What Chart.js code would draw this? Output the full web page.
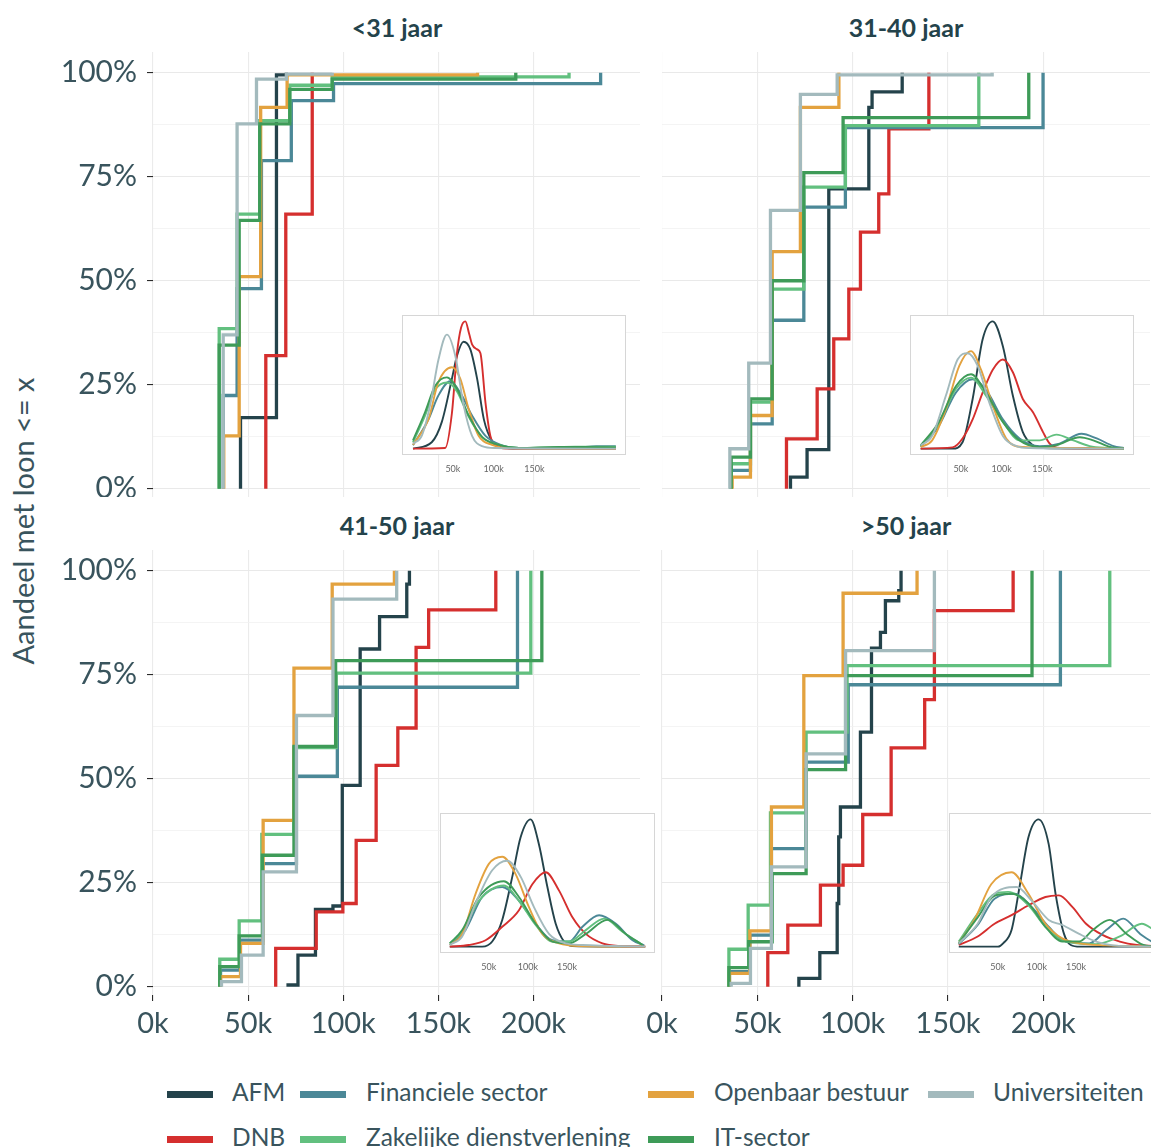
<!DOCTYPE html>
<html>
<head>
<meta charset="utf-8">
<script src="https://cdn.jsdelivr.net/npm/chart.js@4.4.1/dist/chart.umd.min.js"></script>
<style>
  body { margin: 0; width: 1151px; height: 1147px; overflow: hidden; background: #fff;
         position: relative; font-family: Lato, "Noto Sans", sans-serif; color: #39545d; }
  canvas { position: absolute; }
  .strip { position: absolute; font-weight: bold; font-size: 25px; color: #24434b;
           transform: translate(-50%, -50%); white-space: nowrap; }
  #ytitle { position: absolute; left: 22px; top: 521px; font-size: 29px; white-space: nowrap;
            transform: translate(-50%, -50%) rotate(-90deg); }
  .leg { position: absolute; font-size: 24.5px; white-space: nowrap; transform: translateY(-50%); }
  .sw { position: absolute; width: 46px; height: 7px; }
</style>
</head>
<body>
<div id="ytitle">Aandeel met loon &lt;= x</div>
<script>
const series = ["AFM", "DNB", "Financiele sector", "Zakelijke dienstverlening",
                "Openbaar bestuur", "IT-sector", "Universiteiten"];
const colors = ["#24434b", "#d52f2e", "#4b8897", "#62c07f", "#e3a23f", "#3e9b58", "#a3babd"];
const panelTitles = ["<31 jaar", "31-40 jaar", "41-50 jaar", ">50 jaar"];
const xTicks = [0, 50, 100, 150, 200];
const yTicks = [0, 12.5, 25, 37.5, 50, 62.5, 75, 87.5, 100];
const insetTicks = [50, 100, 150];

// ecdf steps per panel, [loon in k, aandeel in %], series in the order above
const ecdfU31 = [
  [[46.0,0],[46.0,17.1],[64.9,99.5],[70.1,100]],
  [[59.3,0],[59.3,32],[69.8,66],[83.7,100]],
  [[36.9,0],[36.9,22.4],[44.2,48.1],[57,78.9],[72.7,93.3],[94.9,97.4],[235.3,100]],
  [[34.8,0],[34.8,38.5],[44.2,66],[56.1,88.5],[71.9,97],[94.2,99],[218.7,100]],
  [[37.2,0],[37.2,12.7],[45.3,51],[56.6,91.7],[70.5,99.5],[170.6,100]],
  [[34.8,0],[34.8,34.5],[45.3,64.5],[56.1,87.7],[71.9,96],[94.2,98.5],[190.7,100]],
  [[36.9,0],[36.9,37],[44.2,87.7],[54.4,98.5],[70.1,99.7],[94.2,100]]
];
const ecdf3140 = [
  [[67.4,0],[67.4,2.8],[76.1,9.4],[87.5,72.1],[108.5,91.7],[110.2,95.4],[126,100]],
  [[65.3,0],[65.3,12],[81.4,24],[90.1,36],[98,48],[104.1,61.7],[113.7,70.9],[119,86.5],[140,100]],
  [[36.3,0],[36.3,4.4],[46.4,15.6],[57.8,40.5],[74.4,67.7],[96.2,86.8],[199.9,100]],
  [[36.3,0],[36.3,6],[46.4,20.8],[57.8,48],[74.4,72.5],[96.2,87.3],[166.2,100]],
  [[36.8,0],[36.8,2.8],[46.4,17.6],[57.8,57],[72.6,91.7],[92.8,100]],
  [[36.3,0],[36.3,7.6],[46.4,21.6],[57.8,50],[74.4,76],[95,89.2],[192.4,100]],
  [[35.6,0],[35.6,9.6],[45.5,30.2],[56.9,66.9],[72.6,94.8],[91.9,99.5],[173.2,100]]
];
const ecdf4150 = [
  [[71,0],[71,0.4],[76.2,7.6],[85.4,18.6],[94.6,19.4],[99.5,48.4],[108.9,81.2],[119.1,89],[133.4,96.8],[134.8,100]],
  [[64.5,0],[64.5,9.2],[85.8,18],[99.8,20],[106.8,35.2],[117.3,53.2],[128.7,62.2],[138.3,81.6],[144.9,90.6],[180.2,100]],
  [[35.5,0],[35.5,4],[45.6,11.2],[57.9,29.6],[75.4,50.6],[96.9,72],[191.6,100]],
  [[35.1,0],[35.1,6.6],[45.3,15.8],[57.2,36.6],[74,57.5],[96.3,75.4],[198.6,100]],
  [[35.5,0],[35.5,2.4],[46,10.4],[57.9,40],[74.1,76.6],[94.2,96.8],[126.9,100]],
  [[35.1,0],[35.1,4.8],[45.3,12.2],[57.5,31.6],[74.1,57.8],[96,78.4],[204.4,100]],
  [[36,0],[36,1.2],[46.5,7.6],[57.9,27.6],[75.4,65.2],[94.6,93.2],[128.1,100]]
];
const ecdf50 = [
  [[71.8,0],[71.8,2],[82.8,8.2],[91.9,20],[92.7,36],[93.6,43.2],[104.1,61.2],[109.9,81.4],[114.6,85.2],[117.2,92.8],[124.2,95.2],[125.4,100]],
  [[55.5,0],[55.5,8.2],[66,14.8],[83.1,24.4],[95,29.2],[105.3,41.4],[120.2,57.4],[137.8,69],[142.9,90.4],[184.2,100]],
  [[35.4,0],[35.4,3.6],[46.1,12.4],[57.4,33.2],[75.6,54],[97.7,72.6],[209,100]],
  [[35.1,0],[35.1,9],[45.2,19.6],[56.9,41.8],[75.6,61.2],[97.1,77.2],[234.9,100]],
  [[35.4,0],[35.4,3.2],[46.1,13.4],[57.4,43.2],[74.4,74.8],[95,94.6],[133.8,100]],
  [[35.1,0],[35.1,4.6],[45.5,10.8],[57.8,27.2],[75.6,52.2],[96.3,74.8],[194.1,100]],
  [[36.3,0],[36.3,0.8],[46.4,9.2],[57.4,28.8],[75.6,56],[96.3,80.8],[142.9,100]]
];

// inset densities, [loon in k, relative hoogte], highest peak = 100
const densU31 = [
  [[1,0],[24,5],[36.4,21],[48.8,55],[55,73],[63,84],[71.4,78],[79.7,55],[88,23],[98,6],[110.5,1],[130,0],[250,0]],
  [[1,0],[40.5,0.5],[48.8,28],[55,75],[60,95],[65.3,100],[70,90],[73.5,82],[79.7,78],[83.8,75],[90,36],[96,10],[104,2],[115,0],[250,0]],
  [[1,2.6],[20,23],[32,41.5],[46.7,53],[59,44],[73.5,26],[90,10],[110.5,2.6],[131,0.5],[200,0.5],[226,2],[250,2]],
  [[1,5],[15.8,26],[28,46],[42.6,52],[55,45],[69.4,25],[86,9],[106.4,3],[131,0.5],[200,1.5],[250,1.5]],
  [[1,3],[20,23],[32,52],[48.8,64],[59,55],[69.4,31],[81.7,10],[98,3],[118.7,0.5],[250,0]],
  [[1,6.5],[15.8,28.6],[28,49],[42.6,56],[55,47],[69.4,26],[86,9],[106.4,3],[131,0.5],[180,1.3],[210,1.3],[250,1]],
  [[1,4],[11.7,10],[22,34],[32.3,70],[42.6,89.6],[52.9,73],[63.2,34],[73.5,10],[85.8,2],[102,0.5],[250,0]]
];
const dens3140 = [
  [[0.6,0],[39.7,0],[52,5],[64.4,39],[76.7,86],[89.1,100],[101.5,80.5],[113.8,41.5],[126,13],[138.5,2.6],[150.8,0.5],[250,0]],
  [[0.6,0],[39.7,1],[52,8],[64.4,23],[76.7,44],[89.1,62],[101.5,70],[113.8,60],[126,39],[138.5,28.6],[150.8,13],[159,4],[171,0.5],[250,0]],
  [[0.6,1.3],[23,18],[43.8,44],[64.4,54.5],[83,44],[101.5,23],[122,8],[146.7,2],[171,4],[198,11.7],[216.8,8],[237.5,2],[250,0.5]],
  [[0.6,2],[23,19.5],[43.8,46.8],[62.4,55.8],[81,41.5],[101.5,21],[122,6.5],[146.7,6.5],[167.3,11],[188,6.5],[208,2],[229,0.5],[250,0]],
  [[0.6,1.3],[14.7,6.5],[31.5,31],[48,65],[62.4,76.6],[74.7,62],[89.1,34],[105.6,8],[126,1.3],[188,0.5],[250,0]],
  [[0.6,2.6],[23,21],[43.8,49],[62.4,58.4],[81,44],[101.5,21],[122,6.5],[146.7,1.3],[167,2.6],[196,9],[212.5,6.5],[233,1.3],[250,0]],
  [[0.6,2.6],[14.7,10],[31.5,41.5],[45.9,70],[58.3,75],[70.6,65],[85,36],[101.5,10],[118,2],[134.5,0.5],[250,0]]
];
const dens4150 = [
  [[0,0],[41.5,0],[54.3,4],[67.1,21],[80,55],[90.6,86],[103.4,100],[114,80.5],[124.8,47],[135.5,18],[146.2,4],[156.9,0.5],[250,0]],
  [[0,0],[24.4,1.3],[45.8,5],[67.1,15.6],[88.5,28.6],[105.6,49],[122.7,58.4],[139.8,44],[156.9,23],[174,10],[195.3,2.6],[216.7,0.5],[250,0]],
  [[0,1.3],[20,13],[41.5,39],[67.1,46.8],[88.5,36],[109.8,18],[131.2,5],[152.6,4],[169.7,15.6],[191,24.7],[212.4,18],[233.8,5],[248.7,1]],
  [[0,2.6],[15.9,11.7],[37.2,36],[69.2,48],[88.5,36],[109.8,17],[131.2,4],[152.6,4],[174,13],[197.4,22],[220.9,11.7],[246.6,1.3]],
  [[0,1.3],[15.9,10],[33,41.5],[50,65],[67.1,70.6],[84.2,57],[101.3,31],[118.4,10],[139.8,2.6],[165.4,0.5],[250,0]],
  [[0,2.6],[15.9,13],[37.2,39],[69.2,51.4],[88.5,39],[109.8,18],[131.2,4],[152.6,2.6],[174,10],[201.7,21],[225,10],[246.6,1.3]],
  [[0,1.3],[15.9,8],[33,34],[54.3,60],[73.5,67.5],[90.6,55],[107.7,31],[126.9,10],[148.3,2.6],[169.7,1.3],[250,0]]
];
const dens50 = [
  [[0,0],[50.2,0],[56.7,2.6],[67.5,13],[78.3,49],[89.1,86],[102.1,100],[115,80.5],[123.8,41.5],[134.6,10],[143.3,1.3],[155,0],[250,0]],
  [[0,1.3],[24.2,8],[45.8,18],[67.5,24.7],[89.1,32.5],[110.8,39],[128.1,40.3],[145.5,31],[162.8,18],[184.4,9],[206,4],[227.7,1.3],[250,0.5]],
  [[0,2],[24.2,17],[45.8,37.7],[71.7,41.5],[93.4,31],[115,15.6],[136.7,4],[167,2.6],[188.6,13],[210.3,22],[232,10],[250,2.6]],
  [[0,4],[24.2,26],[45.8,41.5],[63.2,43],[89.1,32.5],[110.8,15.6],[132.4,5],[175.7,2],[206,8],[234.2,18],[250,13]],
  [[0,2.6],[19.9,21],[41.5,49],[67.5,58.4],[89.1,41.5],[110.8,18],[132.4,6.5],[154,2.6],[188,1],[250,0]],
  [[0,2.6],[24.2,23],[45.8,40],[67.5,41.5],[89.1,34],[110.8,15.6],[132.4,4],[154,4],[171.3,13],[193,21],[214.7,10],[236,1.3],[250,0]],
  [[0,2.6],[24.2,18],[41.5,39],[73.9,46.8],[93.4,36],[115,21],[132.4,17],[154,10],[175.7,4],[197.4,1],[250,0]]
];

const textColor = "#39545d";
const font = "Lato, 'Noto Sans', sans-serif";

function addCanvas(l, t, w, h) {
  const c = document.createElement("canvas");
  c.width = w; c.height = h;
  c.style.left = l + "px"; c.style.top = t + "px";
  c.style.width = w + "px"; c.style.height = h + "px";
  document.body.appendChild(c);
  return c;
}

function noPad(s) {
  s.paddingTop = 0; s.paddingBottom = 0; s.paddingLeft = 0; s.paddingRight = 0;
}

function makeDatasets(list, width, extra) {
  // last series drawn on top, like the original
  return list.map((pts, i) => Object.assign({
    label: series[i],
    data: pts.map(p => ({ x: p[0], y: p[1] })),
    borderColor: colors[i],
    borderWidth: width,
    pointRadius: 0,
    fill: false,
    order: series.length - i
  }, extra));
}

function makePanel(p) {
  const c = addCanvas(p.l, p.t, p.w, p.h);
  new Chart(c, {
    type: "line",
    data: { datasets: makeDatasets(p.ecdf, 3.3, { stepped: true }) },
    options: {
      responsive: false, animation: false, devicePixelRatio: 1,
      layout: { padding: 0 },
      plugins: { legend: { display: false }, tooltip: { enabled: false } },
      scales: {
        x: {
          type: "linear", min: 0, max: 256,
          afterBuildTicks: s => { s.ticks = xTicks.map(v => ({ value: v })); },
          afterFit: s => { s.height = p.xh; noPad(s); },
          border: { display: false },
          grid: { color: "#ebebeb", lineWidth: 1.1, drawTicks: p.xh > 0, tickLength: 6, tickColor: "#2b2b2b" },
          ticks: { display: p.xh > 0, callback: v => v + "k", color: textColor, padding: 5,
                   font: { family: font, size: 29 }, maxRotation: 0, autoSkip: false }
        },
        y: {
          type: "linear", min: -2, max: 105,
          afterBuildTicks: s => { s.ticks = yTicks.map(v => ({ value: v })); },
          afterFit: s => { s.width = p.yw; noPad(s); },
          border: { display: false },
          grid: {
            color: ctx => ctx.tick && ctx.tick.value % 25 === 0 ? "#e9e9e9" : "#f1f1f1",
            lineWidth: ctx => ctx.tick && ctx.tick.value % 25 === 0 ? 1.1 : 0.8,
            drawTicks: p.ticksY, tickLength: 6,
            tickColor: ctx => ctx.tick && ctx.tick.value % 25 === 0 ? "#2b2b2b" : "rgba(0,0,0,0)"
          },
          ticks: { display: p.ticksY, callback: v => v % 25 === 0 ? v + "%" : "", color: textColor,
                   padding: 10, font: { family: font, size: 30 }, autoSkip: false }
        }
      }
    }
  });
}

const insetBox = {
  id: "insetBox",
  beforeDraw(chart) {
    const a = chart.chartArea, ctx = chart.ctx;
    ctx.save(); ctx.fillStyle = "#fff";
    ctx.fillRect(a.left, a.top, a.right - a.left, a.bottom - a.top);
    ctx.restore();
  },
  afterDraw(chart) {
    const a = chart.chartArea, ctx = chart.ctx;
    ctx.save(); ctx.strokeStyle = "#d6d6d6"; ctx.lineWidth = 1;
    ctx.strokeRect(a.left + 0.5, a.top + 0.5, a.right - a.left - 1, a.bottom - a.top - 1);
    ctx.restore();
  }
};

function makeInset(p) {
  const c = addCanvas(p.il, p.it, p.iw, 158);
  new Chart(c, {
    type: "line",
    data: { datasets: makeDatasets(p.dens, 1.9, { cubicInterpolationMode: "monotone" }) },
    plugins: [insetBox],
    options: {
      responsive: false, animation: false, devicePixelRatio: 1,
      layout: { padding: 0 },
      plugins: { legend: { display: false }, tooltip: { enabled: false } },
      scales: {
        x: {
          type: "linear", min: -12.5, max: 262.5,
          afterBuildTicks: s => { s.ticks = insetTicks.map(v => ({ value: v })); },
          afterFit: s => { s.height = 18; noPad(s); },
          border: { display: false },
          grid: { display: false },
          ticks: { callback: v => v + "k", color: "#666", padding: 1,
                   font: { family: font, size: 9 }, maxRotation: 0, autoSkip: false }
        },
        y: { display: false, min: -5, max: 105 }
      }
    }
  });
}

const panels = [
  { title: panelTitles[0], ecdf: ecdfU31, dens: densU31, l: 0, t: 52, w: 640, h: 445, yw: 153, xh: 0, ticksY: true,
    cx: 397, cy: 27, il: 402, it: 315, iw: 224 },
  { title: panelTitles[1], ecdf: ecdf3140, dens: dens3140, l: 662, t: 52, w: 488, h: 445, yw: 0, xh: 0, ticksY: false,
    cx: 906, cy: 27, il: 910, it: 315, iw: 224 },
  { title: panelTitles[2], ecdf: ecdf4150, dens: dens4150, l: 0, t: 550, w: 640, h: 500, yw: 153, xh: 55, ticksY: true,
    cx: 397, cy: 525, il: 440, it: 813, iw: 215 },
  { title: panelTitles[3], ecdf: ecdf50, dens: dens50, l: 640, t: 550, w: 510, h: 500, yw: 22, xh: 55, ticksY: false,
    cx: 906, cy: 525, il: 949, it: 813, iw: 215 }
];

panels.forEach(p => {
  makePanel(p);
  const d = document.createElement("div");
  d.className = "strip";
  d.textContent = p.title;
  d.style.left = p.cx + "px"; d.style.top = p.cy + "px";
  document.body.appendChild(d);
});
panels.forEach(makeInset);

// legend: two rows, filled column by column
const legCols = [[167, 232], [300, 366], [648, 714], [928, 993]];
const legRows = [1094, 1139];
series.forEach((name, i) => {
  const col = legCols[Math.floor(i / 2)], row = legRows[i % 2];
  const sw = document.createElement("div");
  sw.className = "sw";
  sw.style.background = colors[i];
  sw.style.left = col[0] + "px"; sw.style.top = (row - 3) + "px";
  document.body.appendChild(sw);
  const t = document.createElement("div");
  t.className = "leg";
  t.textContent = name;
  t.style.left = col[1] + "px"; t.style.top = (row - 3) + "px";
  document.body.appendChild(t);
});
</script>
</body>
</html>
